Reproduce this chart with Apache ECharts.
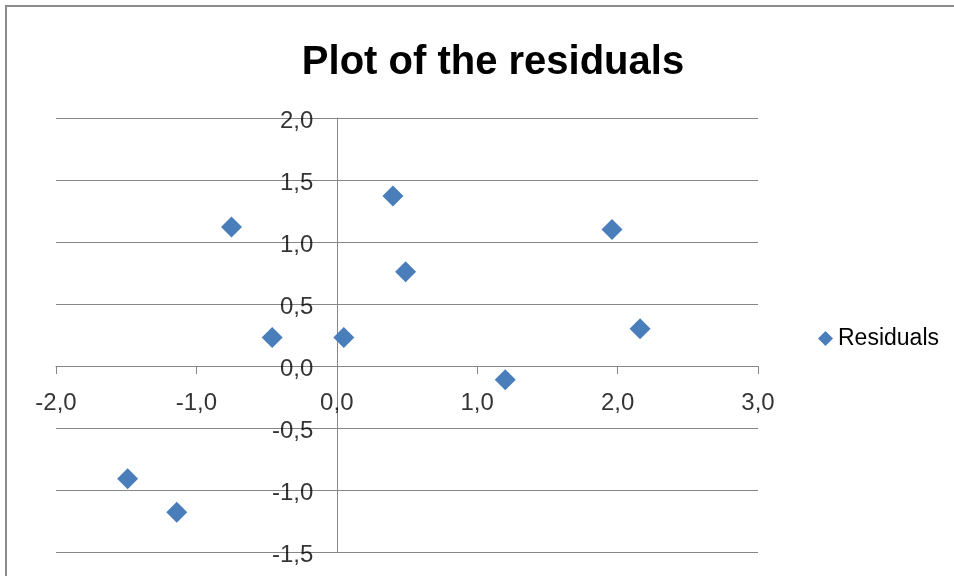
<!DOCTYPE html>
<html>
<head>
<meta charset="utf-8">
<script src="https://cdn.jsdelivr.net/npm/echarts@6/dist/echarts.min.js"></script>
<style>html,body{margin:0;padding:0;background:#fff}#c{width:954px;height:576px}</style>
</head>
<body>
<div id="c"></div>
<script>
var titleText = "Plot of the residuals";
var seriesName = "Residuals";
var xValues = [-1.49, -1.14, -0.75, -0.46, 0.05, 0.40, 0.49, 1.20, 1.96, 2.16];
var yValues = [-0.91, -1.18, 1.12, 0.23, 0.23, 1.37, 0.76, -0.11, 1.10, 0.30];
var xTickValues = [-2, -1, 0, 1, 2, 3];
var yTickValues = [-1.5, -1, -0.5, 0, 0.5, 1, 1.5, 2];

function fmt(v){ return v.toFixed(1).replace('.', ','); }

var data = xValues.map(function(x, i){ return [x, yValues[i]]; });
var xLabelData = xTickValues.map(function(v){ return [v, 0]; });
var yLabelData = yTickValues.map(function(v){ return [0, v]; });

var chart = echarts.init(document.getElementById('c'));
var font = "'Liberation Sans', Arial, sans-serif";
var labelStyle = {fontFamily: font, fontSize: 24, color: '#000'};
chart.setOption({
  animation: false,
  backgroundColor: '#ffffff',
  title: {
    text: titleText, left: 488, top: 38, textAlign: 'center',
    textStyle: {fontFamily: font, fontWeight: 'bold', fontSize: 40, color: '#000'}
  },
  legend: {
    data: [{name: seriesName, icon: 'diamond'}],
    right: 10, top: 322, orient: 'vertical',
    itemWidth: 15, itemHeight: 15, itemGap: 6,
    textStyle: {fontFamily: font, fontSize: 23, color: '#000'}
  },
  grid: {left: 56, right: 196, top: 118, bottom: 24, containLabel: false, outerBoundsMode: 'none'},
  xAxis: {
    type: 'value', min: xTickValues[0], max: xTickValues[xTickValues.length - 1], interval: 1,
    axisLine: {onZero: true, lineStyle: {color: '#868686', width: 1}},
    axisTick: {show: true, length: 8, inside: false, lineStyle: {color: '#868686'}},
    axisLabel: {show: false},
    splitLine: {show: false}
  },
  yAxis: {
    type: 'value', min: yTickValues[0], max: yTickValues[yTickValues.length - 1], interval: 0.5,
    axisLine: {show: true, onZero: true, lineStyle: {color: '#868686', width: 1}},
    axisTick: {show: false},
    axisLabel: {show: false},
    splitLine: {show: true, lineStyle: {color: '#868686', width: 1}}
  },
  graphic: [{
    type: 'rect', shape: {x: 6, y: 6, width: 1100, height: 800},
    style: {fill: 'none', stroke: '#8c8c8c', lineWidth: 2}, z: 100
  }],
  series: [{
    name: seriesName, type: 'scatter', data: data,
    symbol: 'diamond', symbolSize: 21, z: 5,
    itemStyle: {color: '#4a7ebb', opacity: 1}
  }, {
    name: 'xTickLabels', type: 'scatter', data: xLabelData, silent: true,
    symbol: 'circle', symbolSize: 1, z: 3,
    itemStyle: {color: 'rgba(255,255,255,0)'},
    label: Object.assign({show: true, position: 'bottom', distance: 25,
      formatter: function(p){ return fmt(p.value[0]); }}, labelStyle)
  }, {
    name: 'yTickLabels', type: 'scatter', data: yLabelData, silent: true,
    symbol: 'circle', symbolSize: 1, z: 3,
    itemStyle: {color: 'rgba(255,255,255,0)'},
    label: Object.assign({show: true, position: 'left', distance: 23, offset: [0, 3],
      formatter: function(p){ return fmt(p.value[1]); }}, labelStyle)
  }]
});
</script>
</body>
</html>
